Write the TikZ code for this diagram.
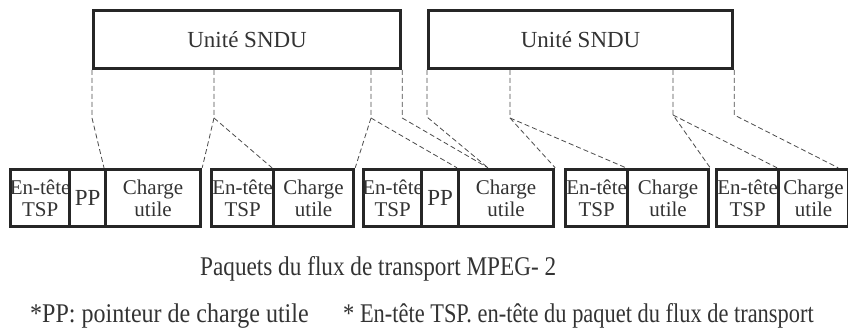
\documentclass[tikz,border=0pt]{standalone}
\usepackage{fontspec}
\setmainfont{Liberation Serif}
\usetikzlibrary{calc}
\definecolor{boxcol}{HTML}{262626}
\definecolor{txtcol}{HTML}{333333}
\definecolor{dashcol}{HTML}{4A4A4A}
\newcommand{\zb}[1]{\makebox[0pt]{#1}}
\begin{document}
\begin{tikzpicture}[x=1pt,y=1pt,
  cell/.style={draw=boxcol, line width=3.2pt, inner sep=0pt, anchor=south west,
    minimum height=57pt, text=txtcol, font=\fontsize{21}{22}\selectfont, align=center},
  sndu/.style={draw=boxcol, line width=3.2pt, inner sep=0pt, anchor=south west,
    minimum height=58pt, text=txtcol, font=\fontsize{23}{24}\selectfont},
  link/.style={draw=dashcol, line width=0.8pt, dash pattern=on 5pt off 3pt},
  note/.style={text=txtcol, inner sep=0pt, anchor=base west, font=\fontsize{27}{28}\selectfont}]
\useasboundingbox (0,0) rectangle (848,327);

% SNDU boxes
\node[sndu, minimum width=307pt] (s1) at (92,257) {Unité SNDU};
\node[sndu, minimum width=304pt] (s2) at (427,257) {Unité SNDU};

% packets
\node[cell, minimum width=59pt] (p1h) at (9,99) {\zb{En-tête}\\\zb{TSP}};
\node[cell, minimum width=36pt, font=\fontsize{23}{24}\selectfont] (p1p) at (68,99) {PP};
\node[cell, minimum width=95pt] (p1c) at (104,99) {\zb{Charge}\\\zb{utile}};

\node[cell, minimum width=62pt] (p2h) at (210,99) {\zb{En-tête}\\\zb{TSP}};
\node[cell, minimum width=80pt] (p2c) at (272,99) {\zb{Charge}\\\zb{utile}};

\node[cell, minimum width=58pt] (p3h) at (362,99) {\zb{En-tête}\\\zb{TSP}};
\node[cell, minimum width=37pt, font=\fontsize{23}{24}\selectfont] (p3p) at (420,99) {PP};
\node[cell, minimum width=95pt] (p3c) at (457,99) {\zb{Charge}\\\zb{utile}};

\node[cell, minimum width=62pt] (p4h) at (564,99) {\zb{En-tête}\\\zb{TSP}};
\node[cell, minimum width=81pt] (p4c) at (626,99) {\zb{Charge}\\\zb{utile}};

\node[cell, minimum width=62pt] (p5h) at (715,99) {\zb{En-tête}\\\zb{TSP}};
\node[cell, minimum width=70pt] (p5c) at (777,99) {\zb{Charge}\\\zb{utile}};

% connector start points on SNDU bottoms and knees
\coordinate (a1) at (s1.south west);
\coordinate (a2) at ($(s1.south west)+(122,0)$);
\coordinate (a3) at ($(s1.south west)+(279,0)$);
\coordinate (a4) at (s1.south east);
\coordinate (b1) at (s2.south west);
\coordinate (b2) at ($(s2.south west)+(83,0)$);
\coordinate (b3) at ($(s2.south west)+(246,0)$);
\coordinate (b4) at (s2.south east);

\coordinate (ka1) at ($(a1)+(0,-48)$);
\coordinate (ka2) at ($(a2)+(0,-48)$);
\coordinate (ka3) at ($(a3)+(0,-48)$);
\coordinate (ka4) at ($(a4)+(0,-48)$);
\coordinate (kb1) at ($(b1)+(0,-47)$);
\coordinate (kb2) at ($(b2)+(0,-48)$);
\coordinate (kb3) at ($(b3)+(0,-45)$);
\coordinate (kb4) at ($(b4)+(0,-45)$);

\coordinate (m3) at ($(p3c.north west)+(31,0)$);
\coordinate (m5) at ($(p5c.north east)+(-12,0)$);

% dashed connectors
\draw[link] (a1) -- (ka1) -- (p1c.north west);
\draw[link] (a2) -- (ka2) -- (p1c.north east);
\draw[link] (ka2) -- (p2c.north west);
\draw[link] (a3) -- (ka3) -- (p2c.north east);
\draw[link] (ka3) -- (p3c.north west);
\draw[link] (a4) -- (ka4) -- (m3);
\draw[link] (b1) -- (kb1) -- (m3);
\draw[link] (b2) -- (kb2) -- (p3c.north east);
\draw[link] (kb2) -- (p4c.north west);
\draw[link] (b3) -- (kb3) -- (p4c.north east);
\draw[link] (kb3) -- (p5c.north west);
\draw[link] (b4) -- (kb4) -- (m5);

% texts
\node[note] (cap) at (200,52) {\scalebox{0.86}[1]{Paquets du flux de transport MPEG- 2}};
\node[note] (fn1) at (30,5) {\scalebox{0.89}[1]{*PP: pointeur de charge utile}};
\node[note] (fn2) at (343,5) {\scalebox{0.83}[1]{* En-tête TSP. en-tête du paquet du flux de transport}};
\end{tikzpicture}
\end{document}
